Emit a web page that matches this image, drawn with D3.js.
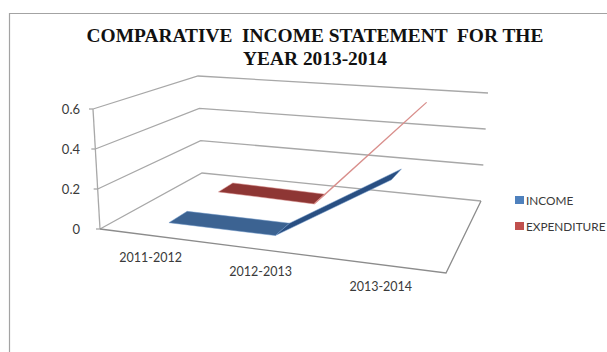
<!DOCTYPE html>
<html>
<head>
<meta charset="utf-8">
<script src="https://cdn.jsdelivr.net/npm/d3@7"></script>
<style>
html, body { margin: 0; padding: 0; background: #fff; }
svg { display: block; }
</style>
</head>
<body>
<div id="chart"></div>
<script>
const categories = ["2011-2012", "2012-2013", "2013-2014"];
const income = [0.01, 0.01, 0.34];
const expenditure = [0.01, 0, 0.56];
const valueTicks = [0, 0.2, 0.4, 0.6];
const titleLines = ["COMPARATIVE  INCOME STATEMENT  FOR THE", "YEAR 2013-2014"];
const seriesNames = ["INCOME", "EXPENDITURE"];

const width = 607, height = 352;
const svg = d3.select("#chart").append("svg").attr("width", width).attr("height", height);

// Outer chart frame, open towards the right and bottom of the page.
svg.append("path")
  .attr("d", "M9.5,352V13.5H607")
  .attr("fill", "none").attr("stroke", "#a3a3a3").attr("stroke-width", 1.2);

svg.selectAll("text.title").data(titleLines).join("text")
  .attr("class", "title")
  .attr("x", 315).attr("y", (d, i) => 41.5 + i * 23.5)
  .attr("text-anchor", "middle")
  .attr("xml:space", "preserve")
  .style("white-space", "pre")
  .attr("font-family", "'Liberation Serif', serif")
  .attr("font-weight", "bold").attr("font-size", 19.4)
  .attr("fill", "#111").text(d => d);

// Unit square to screen quad; corners run front-left, front-right, back-right, back-left.
function quadMap([[x0, y0], [x1, y1], [x2, y2], [x3, y3]]) {
  const dx1 = x1 - x2, dx2 = x3 - x2, sx = x0 - x1 + x2 - x3;
  const dy1 = y1 - y2, dy2 = y3 - y2, sy = y0 - y1 + y2 - y3;
  const den = dx1 * dy2 - dx2 * dy1;
  const g = (sx * dy2 - dx2 * sy) / den, h = (dx1 * sy - sx * dy1) / den;
  const a = x1 - x0 + g * x1, b = x3 - x0 + h * x3;
  const d = y1 - y0 + g * y1, e = y3 - y0 + h * y3;
  return (u, v) => {
    const w = g * u + h * v + 1;
    return [(a * u + b * v + x0) / w, (d * u + e * v + y0) / w];
  };
}

// Perspective box: a screen point is interpolated between floor and ceiling.
const floorMap = quadMap([[100, 229], [446, 273], [481, 201], [202, 173]]);
const ceilingMap = quadMap([[93, 109], [453, 139], [488, 93], [198, 76]]);
const project = (u, v, t) => {
  const f = floorMap(u, v), c = ceilingMap(u, v);
  return [f[0] + (c[0] - f[0]) * t, f[1] + (c[1] - f[1]) * t];
};

const xPos = d3.scalePoint().domain(categories).range([0, 1]).padding(0.5);
const heightPos = d3.scaleLinear().domain([0, 0.6]).range([0, 1]);
const depthPos = d3.scaleBand().domain(seriesNames).range([0, 1]).paddingInner(0.66).paddingOuter(0.3);

const line = d3.line();
const wallColor = "#a8a8a8";

// Gridlines run across the left and back walls.
svg.selectAll("path.grid").data(valueTicks).join("path")
  .attr("class", "grid")
  .attr("d", d => {
    const t = heightPos(d);
    return line([project(0, 0, t), project(0, 1, t), project(1, 1, t)]);
  })
  .attr("fill", "none").attr("stroke", wallColor).attr("stroke-width", 1.3);

// Value axis with its ticks and labels.
svg.append("path")
  .attr("d", line([project(0, 0, 0), project(0, 0, 1)]))
  .attr("fill", "none").attr("stroke", wallColor).attr("stroke-width", 1.3);
svg.selectAll("path.tick").data(valueTicks).join("path")
  .attr("class", "tick")
  .attr("d", d => {
    const p = project(0, 0, heightPos(d));
    return line([[p[0] - 4, p[1]], p]);
  })
  .attr("stroke", wallColor).attr("stroke-width", 1.3);
svg.selectAll("text.vlabel").data(valueTicks).join("text")
  .attr("class", "vlabel")
  .attr("x", 80)
  .attr("y", d => project(0, 0, heightPos(d))[1] + 4.5)
  .attr("text-anchor", "end")
  .attr("font-family", "Lato, 'Open Sans', sans-serif")
  .attr("font-size", 13).attr("fill", "#3a3a3a").text(d => d);

// Floor outline.
svg.append("path")
  .attr("d", line([project(0, 0, 0), project(1, 0, 0), project(1, 1, 0)]))
  .attr("fill", "none").attr("stroke", "#8c8c8c").attr("stroke-width", 1.3);

// Ribbons: one flat band per series, each segment shaded on its own.
const ribbons = [
  { name: seriesNames[1], values: expenditure, fills: ["#8e3634", "#d98f8c"], edge: "#d98f8c", edgeWidths: [0.5, 1.2] },
  { name: seriesNames[0], values: income, fills: ["#3c6392", "#294f82"], edge: "#6f96c6", edgeWidths: [0.5, 0.5] }
];
ribbons.forEach(r => {
  const z0 = depthPos(r.name), z1 = z0 + depthPos.bandwidth();
  d3.pairs(categories.map((c, i) => ({ u: xPos(c), t: heightPos(r.values[i]) })))
    .forEach(([p, q], i) => {
      svg.append("path")
        .attr("d", line([project(p.u, z0, p.t), project(q.u, z0, q.t),
                         project(q.u, z1, q.t), project(p.u, z1, p.t)]) + "Z")
        .attr("fill", r.fills[i]).attr("stroke", r.edge).attr("stroke-width", r.edgeWidths[i]);
    });
});

// Category labels sit just below the front floor edge.
svg.selectAll("text.cat").data(categories).join("text")
  .attr("class", "cat")
  .attr("x", d => project(xPos(d), 0, 0)[0] - 1)
  .attr("y", d => project(xPos(d), 0, 0)[1] + 26)
  .attr("text-anchor", "middle")
  .attr("font-family", "Lato, 'Open Sans', sans-serif")
  .attr("font-size", 12.5).attr("fill", "#3a3a3a").text(d => d);

// Legend.
const legendColors = ["#4f81bd", "#c0504d"];
const legend = svg.selectAll("g.legend").data(seriesNames).join("g")
  .attr("class", "legend")
  .attr("transform", (d, i) => `translate(515,${196 + i * 26})`);
legend.append("rect").attr("width", 9).attr("height", 8)
  .attr("fill", (d, i) => legendColors[i]);
legend.append("text").attr("x", 11).attr("y", 9)
  .attr("font-family", "Lato, 'Open Sans', sans-serif")
  .attr("font-size", 11.8).attr("fill", "#3a3a3a").text(d => d);
</script>
</body>
</html>
